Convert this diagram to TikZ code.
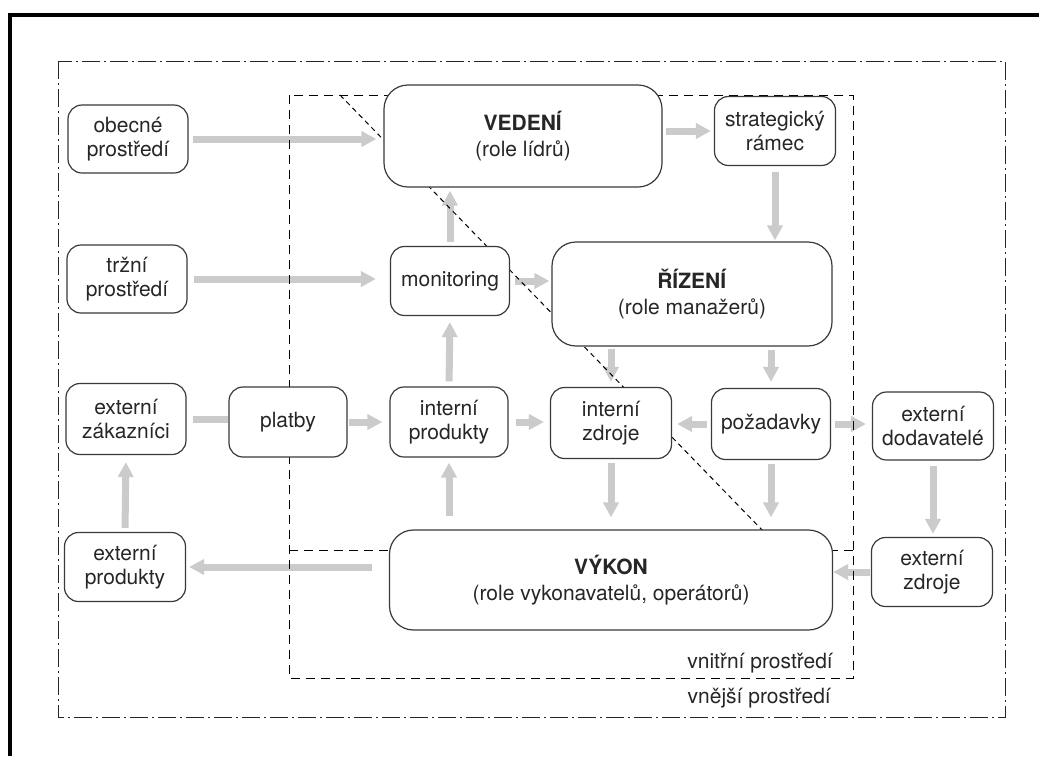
\documentclass[tikz,border=0pt]{standalone}
\usepackage{fontspec}
\setmainfont{TeX Gyre Heros}
\usetikzlibrary{arrows.meta}
\pgfdeclarelayer{bglayer}
\pgfdeclarelayer{arrowlayer}
\pgfdeclarelayer{dashlayer}
\pgfsetlayers{bglayer,arrowlayer,dashlayer,main}
\definecolor{boxc}{HTML}{3A3A3A}
\definecolor{txtc}{HTML}{262626}
\definecolor{arrc}{HTML}{CBCBCB}
\begin{document}
\begin{tikzpicture}[x=1pt,y=-1pt,
  box/.style={draw=boxc, line width=1.2pt, fill=white, rounded corners=14pt,
    align=center, inner sep=0pt, text=txtc, font=\fontsize{21}{24}\selectfont},
  bigbox/.style={box, rounded corners=24pt, font=\fontsize{21}{26}\selectfont},
  fat/.style={line width=7pt, draw=arrc, -{Triangle[length=15pt,width=15pt]}},
  bar/.style={line width=7pt, draw=arrc},
  innerline/.style={draw=black, line width=1pt, dash pattern=on 9pt off 6pt},
  diagline/.style={draw=black, line width=1pt, dash pattern=on 5pt off 4pt},
  outerline/.style={draw=black!85, line width=1pt, dash pattern=on 18pt off 4pt on 2pt off 4pt},
  lbl/.style={text=txtc, font=\fontsize{21}{24}\selectfont, inner sep=0pt, anchor=base east}]
\useasboundingbox (0,0) rectangle (1039,756);
\begin{pgfonlayer}{bglayer}
  \fill[white] (0,0) rectangle (1039,756);
  \draw[line width=4pt] (9.5,756) -- (9.5,15) -- (1039,15);
\end{pgfonlayer}

% nodes
\node[box, minimum width=120pt, minimum height=68pt] (obec) at (128,139) {obecné\\prostředí};
\node[box, minimum width=120pt, minimum height=68pt] (trz) at (127,279) {tržní\\prostředí};
\node[bigbox, minimum width=278pt, minimum height=102pt] (ved) at (523,136) {\textbf{VEDENÍ}\\(role lídrů)};
\node[box, minimum width=121pt, minimum height=69pt] (strat) at (775,131) {strategický\\rámec};
\node[box, minimum width=119pt, minimum height=69pt] (mon) at (450,281) {monitoring};
\node[bigbox, minimum width=280pt, minimum height=104pt] (riz) at (692,294) {\textbf{ŘÍZENÍ}\\(role manažerů)};
\node[box, minimum width=120pt, minimum height=71pt] (zak) at (126,419) {externí\\zákazníci};
\node[box, minimum width=118pt, minimum height=70pt] (plat) at (288,422) {platby};
\node[box, minimum width=118pt, minimum height=70pt] (ip) at (449,422) {interní\\produkty};
\node[box, minimum width=121pt, minimum height=71pt] (iz) at (611,423) {interní\\zdroje};
\node[box, minimum width=119pt, minimum height=71pt] (poz) at (771,424) {požadavky};
\node[box, minimum width=121pt, minimum height=68pt] (dod) at (933,426) {externí\\dodavatelé};
\node[box, minimum width=121pt, minimum height=69pt] (exp) at (125,567) {externí\\produkty};
\node[bigbox, minimum width=443pt, minimum height=100pt] (vyk) at (611,580) {\textbf{VÝKON}\\(role vykonavatelů, operátorů)};
\node[box, minimum width=121pt, minimum height=69pt] (zdr) at (932,572) {externí\\zdroje};
\node[lbl] (vnitr) at (833,668) {vnitřní prostředí};
\node[lbl] (vnej) at (831,703) {vnější prostředí};

% boundaries
\begin{pgfonlayer}{dashlayer}
  \draw[outerline] (58,61) rectangle (1005,717);
  \draw[innerline] (289,95) rectangle (853,678);
  \draw[innerline] (289,550) -- (853,550);
  \draw[diagline] (340,95) -- (765,533);
\end{pgfonlayer}

% arrows
\begin{pgfonlayer}{arrowlayer}
  \draw[fat, shorten <=4pt, shorten >=7pt] (obec.east) -- (obec.east -| ved.west);
  \draw[fat, shorten <=6pt, shorten >=14pt] (trz.east) -- (trz.east -| mon.west);
  \draw[fat, shorten <=3pt, shorten >=3pt] (ved.east |- strat.west) -- (strat.west);
  \draw[fat, shorten <=6pt, shorten >=1pt] (strat.south) -- (strat.south |- riz.north);
  \draw[fat, shorten <=4pt, shorten >=3pt] (mon.north) -- (mon.north |- ved.south);
  \draw[fat, shorten <=5pt, shorten >=2pt] (mon.east) -- (mon.east -| riz.west);
  \draw[fat, shorten <=5pt, shorten >=6pt] (ip.north) -- (mon.south);
  \draw[fat, shorten <=1pt, shorten >=7pt] (plat.east) -- (ip.west);
  \draw[bar, shorten <=6pt] (zak.east) -- (zak.east -| plat.west);
  \draw[fat, shorten <=7pt, shorten >=6pt] (ip.east) -- (ip.east -| iz.west);
  \draw[fat, shorten <=4pt, shorten >=5pt] (poz.west) -- (poz.west -| iz.east);
  \draw[fat, shorten <=4pt, shorten >=6pt] (poz.east) -- (poz.east -| dod.west);
  \draw[fat, shorten <=2pt, shorten >=5pt] (iz.north |- riz.south) -- (iz.north);
  \draw[fat, shorten <=3pt, shorten >=6pt] (poz.north |- riz.south) -- (poz.north);
  \draw[fat, shorten <=4pt, shorten >=12pt] (iz.south) -- (iz.south |- vyk.north);
  \draw[fat, shorten <=4pt, shorten >=12pt] (poz.south) -- (poz.south |- vyk.north);
  \draw[fat, shorten <=5pt, shorten >=3pt] (dod.south) -- (dod.south |- zdr.north);
  \draw[fat, shorten <=1pt] (zdr.west) -- (zdr.west -| vyk.east);
  \draw[fat, shorten <=17pt, shorten >=3pt] (exp.east -| vyk.west) -- (exp.east);
  \draw[fat, shorten <=4pt, shorten >=7pt] (exp.north) -- (zak.south);
  \draw[fat, shorten <=13pt, shorten >=5pt] (ip.south |- vyk.north) -- (ip.south);
\end{pgfonlayer}
\end{tikzpicture}
\end{document}
